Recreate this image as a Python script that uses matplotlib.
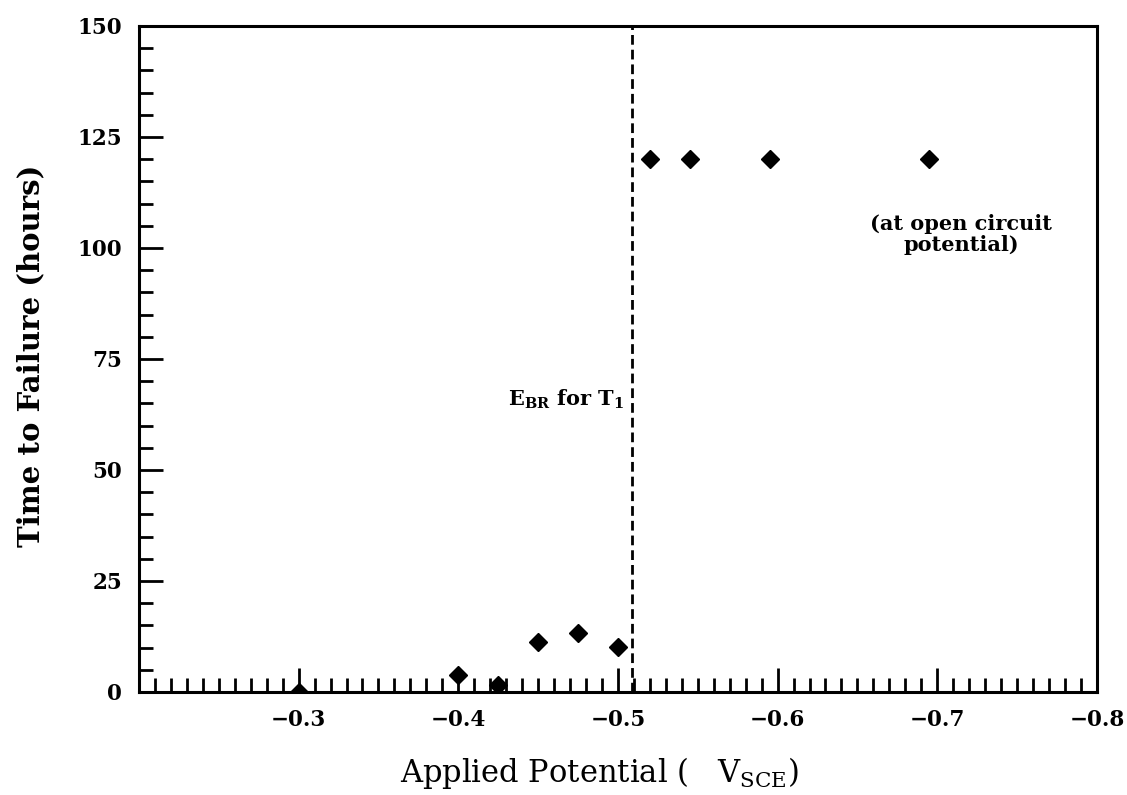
import matplotlib
matplotlib.use("Agg")
import matplotlib.pyplot as plt
from matplotlib.ticker import MultipleLocator, FixedLocator

# data
potential = [-0.300, -0.400, -0.425, -0.450, -0.475, -0.500, -0.520, -0.545, -0.595, -0.695]
hours = [0.0, 3.8, 1.5, 11.3, 13.3, 10.1, 120, 120, 120, 120]
e_br = -0.509
x_ticks = [-0.3, -0.4, -0.5, -0.6, -0.7, -0.8]
x_ticklabels = ["\u22120.3", "\u22120.4", "\u22120.5", "\u22120.6", "\u22120.7", "\u22120.8"]
y_ticks = [0, 25, 50, 75, 100, 125, 150]

plt.rcParams['font.family'] = ['DejaVu Serif']
plt.rcParams['mathtext.fontset'] = 'dejavuserif'

fig = plt.figure(figsize=(11.27, 7.95), dpi=100)
ax = fig.add_axes([0.1233, 0.1296, 0.850, 0.8377])

ax.plot(potential, hours, linestyle='none', marker='D', markersize=9.5,
        color='black', zorder=3)
# E_BR line for T1
ax.axvline(e_br, color='black', linewidth=2, linestyle=(0, (3.5, 1.8)), zorder=2)

ax.set_xlim(-0.2, -0.8)
ax.set_ylim(0, 150)

ax.xaxis.set_major_locator(FixedLocator(x_ticks))
ax.set_xticklabels(x_ticklabels)
ax.xaxis.set_minor_locator(MultipleLocator(0.01))
ax.yaxis.set_major_locator(FixedLocator(y_ticks))
ax.yaxis.set_minor_locator(MultipleLocator(5))

ax.tick_params(which='both', direction='in', top=False, right=False, width=2,
               labelsize=15.5, pad=12)
ax.tick_params(which='major', length=17)
ax.tick_params(which='minor', length=10)
for lab in ax.get_xticklabels() + ax.get_yticklabels():
    lab.set_fontweight('bold')

for sp in ax.spines.values():
    sp.set_linewidth(2.2)

ax.text(-0.431, 66, r"$\mathbf{E_{BR}}$ for T$_\mathbf{1}$", fontsize=15,
        fontweight='bold', ha='left', va='center')
ax.text(-0.715, 103, "(at open circuit\npotential)", fontsize=15, fontweight='bold',
        ha='center', va='center', linespacing=1.05)

ax.set_xlabel(r"Applied Potential (   V$_{\mathrm{SCE}}$)", fontsize=22)
ax.xaxis.set_label_coords(0.481, -0.095)
ax.set_ylabel("Time to Failure (hours)", fontsize=21, fontweight='bold')
ax.yaxis.set_label_coords(-0.098, 0.505)

fig.savefig("out.png", dpi=100)
